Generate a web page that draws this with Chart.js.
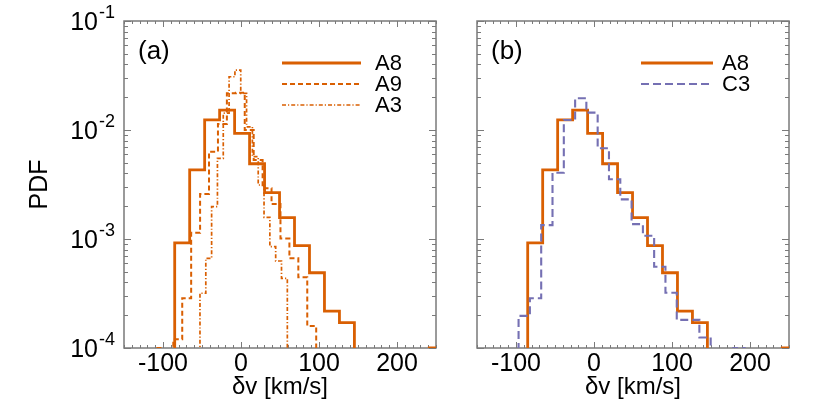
<!DOCTYPE html>
<html><head><meta charset="utf-8">
<script src="https://cdn.jsdelivr.net/npm/chart.js@4.4.0/dist/chart.umd.min.js"></script>
<style>
html,body{margin:0;padding:0;background:#fff;}
#wrap{position:relative;width:830px;height:415px;overflow:hidden;}
canvas{position:absolute;left:0;top:0;}
</style></head><body>
<div id="wrap"><canvas id="c1"></canvas><canvas id="c2"></canvas></div>
<script>
// ---------------- data ----------------
const xMajorTicks = [-100, 0, 100, 200];
const yDecadeExponents = [-1, -2, -3, -4];
const xTitle = "δv [km/s]";
const yTitle = "PDF";

// A8: bin edges and PDF values
const a8Edges  = [-85.0, -65.8, -46.6, -27.4, -8.2, 11.0, 30.2, 49.4, 68.6, 87.8, 107.0, 126.2, 145.4, 164.6, 183.8, 203.0, 222.2, 241.4, 260.6];
const a8Values = [9.2e-4, 4.3e-3, 1.24e-2, 1.52e-2, 9.3e-3, 4.9e-3, 2.66e-3, 1.57e-3, 8.7e-4, 4.9e-4, 2.18e-4, 1.71e-4, 0, 0, 0, 0, 0, 1.0e-4];

// A9
const a9Edges  = [-109.7, -98.25, -86.8, -75.35, -63.9, -52.45, -41.0, -29.55, -18.1, -6.65, 4.8, 16.25, 27.7, 39.15, 50.6, 62.05, 73.5, 84.95, 96.4];
const a9Values = [1.0e-4, 0, 1.2e-4, 2.86e-4, 1.14e-3, 2.59e-3, 6.32e-3, 1.135e-2, 2.17e-2, 2.2e-2, 1.0e-2, 5.3e-3, 2.92e-3, 2.09e-3, 1.01e-3, 6.65e-4, 4.46e-4, 1.59e-4];

// A3
const a3Edges  = [-52.6, -45.13, -37.67, -30.2, -22.73, -15.27, -7.8, -0.33, 7.13, 14.6, 22.07, 29.53, 37.0, 44.47, 51.93, 59.4];
const a3Values = [3.18e-4, 6.65e-4, 1.98e-3, 5.5e-3, 1.43e-2, 3.08e-2, 3.55e-2, 2.17e-2, 1.07e-2, 5.69e-3, 3.13e-3, 1.58e-3, 8.5e-4, 6.28e-4, 4.35e-4];

// C3
const c3Edges  = [-96.7, -82.2, -67.7, -53.2, -38.7, -24.2, -9.8, 4.7, 19.2, 33.7, 48.2, 62.7, 77.1, 91.6, 106.1, 120.6, 135.1, 149.6, 164.1, 178.6, 193.1];
const c3Values = [1.97e-4, 2.86e-4, 1.34e-3, 4.05e-3, 1.236e-2, 1.954e-2, 1.442e-2, 6.8e-3, 3.53e-3, 2.31e-3, 1.37e-3, 1.07e-3, 5.57e-4, 3.21e-4, 1.81e-4, 1.81e-4, 1.25e-4, 0, 0, 1.0e-4];

// ---------------- styling ----------------
const ORANGE = '#d95f02';
const PURPLE = '#7570b3';
const FRAME = '#7a7a7a';
const FONT = '"Liberation Sans", Arial, sans-serif';
const W = 830, H = 415;
const FLOOR = 1e-7; // zero-count bins are drawn below the visible range

function histPoints(edges, values) {
  const pts = [{x: edges[0], y: FLOOR}];
  for (let i = 0; i < values.length; i++) pts.push({x: edges[i], y: values[i] > 0 ? values[i] : FLOOR});
  pts.push({x: edges[edges.length - 1], y: FLOOR});
  return pts;
}

const styles = {
  A8: {color: ORANGE, width: 2.8, dash: []},
  A9: {color: ORANGE, width: 2.0, dash: [5, 3]},
  A3: {color: ORANGE, width: 1.7, dash: [4, 2, 1.2, 2]},
  C3: {color: PURPLE, width: 2.1, dash: [8, 4]}
};

function ds(label, edges, values) {
  const s = styles[label];
  return {
    label, data: histPoints(edges, values),
    borderColor: s.color, borderWidth: s.width, borderDash: s.dash,
    stepped: true, pointRadius: 0, fill: false, tension: 0,
    borderJoinStyle: 'miter', borderCapStyle: 'butt'
  };
}

const axesPlugin = {
  id: 'axesPlugin',
  beforeDatasetsDraw(chart) {
    const {ctx, chartArea: a} = chart;
    const xs = chart.scales.x, ys = chart.scales.y;
    ctx.save();
    ctx.strokeStyle = FRAME;
    ctx.lineWidth = 1;
    ctx.beginPath();
    for (let v = xs.min; v <= xs.max + 1e-9; v += 10) {
      const px = Math.round(xs.getPixelForValue(v)) + 0.5;
      const len = xMajorTicks.includes(v) ? 6 : 3;
      ctx.moveTo(px, a.bottom); ctx.lineTo(px, a.bottom - len);
      ctx.moveTo(px, a.top); ctx.lineTo(px, a.top + len);
    }
    for (let e = -4; e <= -1; e++) {
      for (let m = 1; m <= 9; m++) {
        const v = m * Math.pow(10, e);
        if (v < ys.min * 0.999 || v > ys.max * 1.001) continue;
        const py = Math.round(ys.getPixelForValue(v)) + 0.5;
        const len = m === 1 ? 7 : 4;
        ctx.moveTo(a.left, py); ctx.lineTo(a.left + len, py);
        ctx.moveTo(a.right, py); ctx.lineTo(a.right - len, py);
      }
    }
    ctx.stroke();
    ctx.lineWidth = 1.5;
    ctx.strokeRect(a.left, a.top, a.right - a.left, a.bottom - a.top);
    ctx.restore();
  },
  afterDraw(chart, args, opts) {
    const {ctx, chartArea: a} = chart;
    const xs = chart.scales.x, ys = chart.scales.y;
    ctx.save();
    ctx.fillStyle = '#000';
    ctx.font = '25px ' + FONT;
    ctx.textAlign = 'center'; ctx.textBaseline = 'middle';
    xMajorTicks.forEach(v => ctx.fillText(String(v), xs.getPixelForValue(v), 364));
    ctx.font = '24px ' + FONT;
    ctx.fillText(xTitle, (a.left + a.right) / 2, 387);
    if (opts.yLabels) {
      yDecadeExponents.forEach(e => {
        const py = ys.getPixelForValue(Math.pow(10, e));
        const sup = '-' + Math.abs(e);
        ctx.font = '18px ' + FONT;
        const ws = ctx.measureText(sup).width;
        const right = a.left - 9;
        ctx.textAlign = 'left'; ctx.textBaseline = 'middle';
        ctx.fillText(sup, right - ws, py - 8);
        ctx.font = '25px ' + FONT;
        ctx.textAlign = 'right';
        ctx.fillText('10', right - ws - 1, py + 2);
      });
      ctx.save();
      ctx.translate(40, (a.top + a.bottom) / 2);
      ctx.rotate(-Math.PI / 2);
      ctx.font = '25px ' + FONT;
      ctx.textAlign = 'center'; ctx.textBaseline = 'middle';
      ctx.fillText(yTitle, 0, 0);
      ctx.restore();
    }
    ctx.font = '26px ' + FONT;
    ctx.textAlign = 'left'; ctx.textBaseline = 'middle';
    ctx.fillText(opts.panel, a.left + 14, 52);
    opts.legend.forEach((item, i) => {
      const y = 63 + 21 * i;
      const s = styles[item];
      ctx.save();
      ctx.strokeStyle = s.color; ctx.lineWidth = s.width; ctx.setLineDash(s.dash);
      ctx.beginPath(); ctx.moveTo(opts.legX0, y); ctx.lineTo(opts.legX1, y); ctx.stroke();
      ctx.restore();
      ctx.font = '22px ' + FONT;
      ctx.textAlign = 'left'; ctx.textBaseline = 'middle';
      ctx.fillText(item, opts.legText, y + 1);
    });
    ctx.restore();
  }
};

function makeChart(id, left, datasets, pluginOpts) {
  const cv = document.getElementById(id);
  cv.width = W; cv.height = H;
  cv.style.width = W + 'px'; cv.style.height = H + 'px';
  return new Chart(cv, {
    type: 'line',
    data: {datasets},
    options: {
      responsive: false, animation: false, devicePixelRatio: 1,
      layout: {padding: {left: left, right: W - (left + 312), top: 21, bottom: H - 348}},
      plugins: {legend: {display: false}, tooltip: {enabled: false}, axesPlugin: pluginOpts},
      scales: {
        x: {type: 'linear', min: -150, max: 250, display: false},
        y: {type: 'logarithmic', min: 1e-4, max: 1e-1, display: false}
      }
    },
    plugins: [axesPlugin]
  });
}

makeChart('c1', 124, [ds('A3', a3Edges, a3Values), ds('A9', a9Edges, a9Values), ds('A8', a8Edges, a8Values)],
  {panel: '(a)', yLabels: true, legend: ['A8', 'A9', 'A3'], legX0: 282, legX1: 361, legText: 375});
makeChart('c2', 477, [ds('C3', c3Edges, c3Values), ds('A8', a8Edges, a8Values)],
  {panel: '(b)', yLabels: false, legend: ['A8', 'C3'], legX0: 641, legX1: 713, legText: 722});
</script>
</body></html>
